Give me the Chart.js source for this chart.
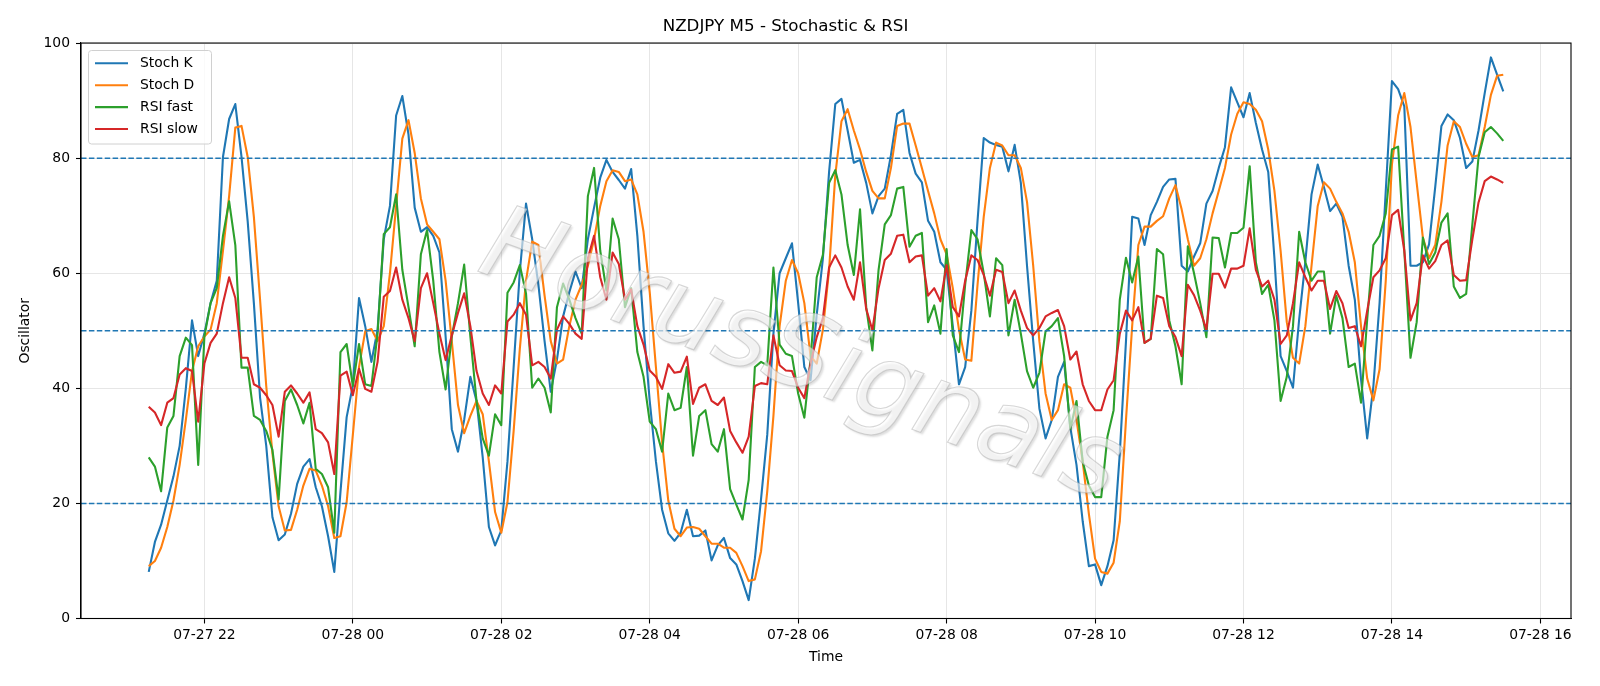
<!DOCTYPE html>
<html>
<head>
<meta charset="utf-8">
<script src="https://cdn.jsdelivr.net/npm/chart.js@4.4.1/dist/chart.umd.min.js"></script>
<style>
html, body { margin: 0; padding: 0; background: #ffffff; }
#wrap { width: 1600px; height: 686px; position: relative; }
</style>
</head>
<body>
<div id="wrap"><canvas id="c" width="1600" height="686"></canvas></div>
<script>
// ---- data (M5 bars, 07-27 21:15 .. 07-28 15:30) ----
const startDay = 27;
const startHour = 21;
const startMinuteOfHour = 15;
const stepMinutes = 5;

const stochK = [
  8.1, 13.3, 16.3, 20.5, 24.7, 30, 40, 51.8, 45.6, 49.5,
  54.8, 58.7, 80.2, 86.8, 89.4, 80.2, 69, 54.8, 38.4, 30,
  17.6, 13.6, 14.6, 18.2, 23.4, 26.4, 27.7, 22.8, 19.5, 14.3,
  8.1, 22, 35, 40.5, 55.7, 50.8, 44.6, 50.2, 65.9, 71.7,
  87.4, 90.8, 84.1, 71.4, 67.2, 68, 66.5, 63.6, 49, 32.9,
  29, 34.5, 42, 37.8, 28, 15.9, 12.7, 15.3, 27.3, 43.7,
  60.3, 72.1, 65.9, 58, 48.2, 39.4, 45, 52.5, 56.7, 60.3,
  57.4, 65.9, 71.4, 76.6, 79.7, 77.6, 76.2, 74.7, 78.1, 66.5,
  50.8, 37.8, 27.3, 18.9, 14.8, 13.5, 14.9, 18.9, 14.3, 14.4,
  15.3, 10.1, 12.7, 14, 10.5, 9.4, 6.5, 3.2, 10.4, 20.8,
  31.9, 49.5, 60, 62.6, 65.2, 54.8, 43.7, 41.4, 52.8, 62.6,
  77.6, 89.4, 90.3, 84.8, 79.2, 79.7, 75.7, 70.4, 73.4, 74.7,
  80.5, 87.7, 88.4, 80.9, 77.3, 75.8, 69.1, 67.2, 61.9, 60.6,
  50.8, 40.7, 43.7, 53.5, 69.1, 83.5, 82.7, 82.3, 82, 77.7,
  82.3, 75.7, 61.3, 48.2, 36.5, 31.3, 34.5, 42, 44.6, 33.2,
  26.7, 16.9, 9.1, 9.4, 5.8, 9.1, 13.6, 28.7, 48.2, 69.8,
  69.5, 64.9, 70.1, 72.4, 75, 76.3, 76.4, 61.3, 60.3, 62.9,
  65.2, 72.1, 74.3, 78.3, 81.9, 92.3, 89.7, 87.1, 91.3, 86.1,
  81.5, 77.6, 62.6, 45.6, 43, 40.1, 52, 62, 73.7, 78.9,
  75, 70.8, 72.1, 69.8, 61.3, 55.4, 41.6, 31.3, 40.4, 54.8,
  74.3, 93.4, 92, 89, 61.3, 61.3, 61.9, 65, 75, 85.6,
  87.6, 86.6, 83.5, 78.3, 79.4, 84.8, 91.3, 97.5, 94.5, 91.6
];

const stochD = [
  9.1, 10, 12.3, 15.9, 20.5, 26.7, 34.5, 43, 47.3, 49,
  50.2, 54.8, 63.9, 73.4, 85.3, 85.6, 80.2, 69.8, 55.4, 40.4,
  28.7, 19.5, 15.3, 15.4, 18.9, 23.1, 26, 25.7, 23.1, 19.5,
  14, 14.3, 20.2, 31.9, 43.7, 49.9, 50.3, 48.2, 50.8, 60,
  71.7, 83.4, 86.6, 80.9, 73, 68.5, 67.2, 65.9, 58.7, 48.2,
  37.1, 32.2, 35.2, 37.8, 35.5, 27.3, 18.5, 14.9, 20.2, 32.6,
  46.9, 58.7, 65.5, 64.9, 56.1, 48.2, 44.3, 45, 50.8, 55.4,
  58, 61.3, 65.9, 71.7, 76, 77.9, 77.6, 76, 76.3, 73.7,
  67.2, 56.7, 43.7, 30.6, 20.5, 15.6, 14.3, 15.8, 15.9, 15.6,
  14.3, 13, 13, 12.3, 12.3, 11.4, 9.1, 6.5, 6.8, 11.7,
  22.1, 35.2, 50.8, 58.7, 62.3, 60, 54.8, 45.6, 44.3, 50.2,
  60.6, 77, 86.4, 88.5, 84.8, 81.5, 77.6, 74.3, 73, 73,
  78.3, 85.6, 86, 86, 82.2, 78.3, 74.3, 70.4, 65.9, 63.3,
  57.4, 50.2, 45, 44.8, 58, 69.8, 78.3, 82.7, 82.2, 80.5,
  80.5, 78.3, 72.4, 61.3, 48.2, 39.1, 34.5, 36.2, 40.7, 40.1,
  34.5, 27.3, 18.2, 10.4, 8.1, 7.8, 9.7, 16.9, 34.5, 50.8,
  64.9, 68.1, 68.1, 69.1, 69.9, 73, 75.3, 71.1, 65.9, 61.3,
  62.6, 65.9, 70.4, 74.3, 78.3, 84.1, 87.7, 89.7, 89.4, 88.4,
  86.4, 81.5, 74.3, 63.9, 51.5, 45.3, 44.3, 50.8, 61.3, 71.7,
  75.8, 74.7, 72.4, 70.4, 67.2, 61.9, 50.8, 41.7, 37.9, 43.3,
  58.7, 78.9, 87.4, 91.3, 85.4, 75.7, 66.2, 62.6, 64.9, 72.4,
  82.2, 86.4, 85.4, 82.5, 80.2, 80.5, 85.4, 91, 94.3, 94.5
];

const rsiFast = [
  28, 26.4, 22.1, 33.2, 35.2, 45.6, 48.8, 47.5, 26.7, 49,
  54.8, 57.4, 66.5, 72.5, 64.9, 43.6, 43.6, 35.2, 34.5, 32.6,
  29.3, 20.7, 37.8, 39.8, 37.1, 33.9, 37.5, 26, 25.1, 22.8,
  14.9, 46.3, 47.7, 40.4, 47.7, 40.7, 40.4, 49.5, 66.8, 68,
  73.7, 60.6, 54.1, 47.3, 63.3, 67.5, 58.7, 46.3, 39.8, 49,
  54.8, 61.5, 49, 37.8, 31.3, 28.3, 35.5, 33.6, 56.6, 58.4,
  61.4, 56.5, 40.1, 41.7, 40.1, 35.8, 54.1, 58.2, 55.4, 52.2,
  49.5, 73.4, 78.3, 63.9, 57, 69.5, 65.9, 54.1, 57.4, 46.3,
  42, 34.2, 32.9, 29, 39.1, 36.2, 36.6, 43.7, 28.3, 35.2,
  36.2, 30.3, 29, 32.9, 22.5, 19.8, 17.2, 24.1, 43.7, 44.6,
  44, 61, 47.6, 46, 45.6, 39.1, 34.9, 45, 59.3, 63.2,
  75.7, 77.9, 73.7, 64.9, 59.7, 71.1, 54.1, 46.6, 60.6, 68.5,
  70.1, 74.7, 75, 64.6, 66.5, 67, 51.5, 54.4, 49.5, 64.2,
  49.2, 46.3, 58, 67.5, 65.9, 60, 52.5, 62.6, 61.4, 49.2,
  55.4, 49.5, 43, 40.1, 42.7, 49.9, 50.8, 52.2, 45.6, 32.9,
  37.8, 27.3, 23.1, 21.1, 21.1, 31.6, 36.2, 55.4, 62.7, 58.4,
  62.9, 47.9, 48.6, 64.2, 63.3, 51.8, 47.3, 40.7, 64.7, 60,
  54.8, 48.9, 66.2, 66.1, 61, 67, 67, 67.9, 78.6, 61.9,
  56.4, 58, 51.8, 37.8, 42, 50.8, 67.2, 61.9, 58.7, 60.3,
  60.3, 49.5, 56.1, 52.2, 43.7, 44.3, 37.5, 52, 64.9, 66.5,
  70.4, 81.5, 82, 63.9, 45.3, 51.5, 66.2, 61.6, 63.6, 68.8,
  70.4, 57.7, 55.7, 56.4, 68.5, 80.2, 84.5, 85.4, 84.3, 83
];

const rsiSlow = [
  36.8, 35.8, 33.6, 37.5, 38.3, 42.4, 43.5, 43, 34.2, 44.3,
  47.9, 49.5, 54.8, 59.3, 55.7, 45.3, 45.3, 40.7, 40.1, 38.8,
  37.1, 31.6, 39.4, 40.5, 39.1, 37.5, 39.3, 32.9, 32.2, 30.6,
  25.1, 42.2, 42.9, 38.8, 43.4, 39.9, 39.4, 44.6, 55.9, 56.9,
  61, 55.4, 52.2, 48.2, 57.4, 60, 54.8, 49.5, 44.9, 49.2,
  53.1, 56.5, 50.8, 43, 39.1, 37.1, 40.5, 39.1, 51.6, 52.8,
  54.8, 52.8, 44, 44.6, 43.7, 41.7, 50.2, 52.5, 51.2, 49.5,
  48.6, 62.6, 66.5, 59.3, 55.4, 63.6, 61.6, 55.4, 57.2, 50.8,
  47.6, 43.1, 42, 39.9, 44.2, 42.7, 42.9, 45.5, 37.3, 40.1,
  40.7, 37.8, 37.1, 38.4, 32.6, 30.6, 28.8, 31.6, 40.4, 40.9,
  40.7, 49.2, 44, 43.1, 43, 40.1, 38.3, 44.3, 48.9, 52.2,
  61, 63.1, 61, 57.7, 55.4, 61.9, 53.8, 50.1, 57.4, 62.3,
  63.4, 66.5, 66.7, 61.9, 62.9, 63.1, 56.1, 57.4, 55.1, 61.4,
  54.1, 52.5, 58.7, 63.1, 62.3, 59.7, 56.1, 60.6, 60.2, 54.8,
  57, 53.5, 50.5, 49.2, 50.5, 52.5, 53.1, 53.6, 50.8, 45,
  46.4, 40.7, 37.8, 36.2, 36.2, 39.8, 41.4, 49.5, 53.5, 51.8,
  54.1, 47.9, 48.6, 56.1, 55.7, 50.8, 48.9, 45.6, 58, 56.2,
  53.5, 50.2, 59.9, 59.9, 57.5, 60.8, 60.8, 61.3, 67.8, 60.6,
  57.7, 58.7, 55.4, 47.7, 49.2, 54.8, 61.9, 59.3, 57, 58.7,
  58.7, 53.8, 56.9, 54.8, 50.5, 50.8, 47.3, 53.5, 59.3, 60.5,
  62.6, 70.1, 71, 63.9, 51.8, 54.8, 63.1, 60.8, 62.1, 64.9,
  65.7, 59.7, 58.7, 58.8, 65.9, 72.3, 76, 76.8, 76.3, 75.7
];

const seriesNames = ['Stoch K', 'Stoch D', 'RSI fast', 'RSI slow'];
const seriesValues = [stochK, stochD, rsiFast, rsiSlow];
const levels = [20, 50, 80];

// tick positions in minutes since 07-27 00:00, and their labels
const tickMinutes = [1320, 1440, 1560, 1680, 1800, 1920, 2040, 2160, 2280, 2400];
const tickLabels = ['07-27 22', '07-28 00', '07-28 02', '07-28 04', '07-28 06',
                    '07-28 08', '07-28 10', '07-28 12', '07-28 14', '07-28 16'];

const chartTitle = 'NZDJPY M5 - Stochastic & RSI';
const xTitle = 'Time';
const yTitle = 'Oscillator';
const watermarkText = 'HorusSignals';

// ---- build ----
const startMinutes = (startDay - 27) * 1440 + startHour * 60 + startMinuteOfHour;
const times = stochK.map((_, i) => startMinutes + i * stepMinutes);
const span = times[times.length - 1] - times[0];
const xMin = times[0] - 0.05 * span;
const xMax = times[times.length - 1] + 0.05 * span;

const colors = ['#1f77b4', '#ff7f0e', '#2ca02c', '#d62728'];
const FONT = "'DejaVu Sans', 'Liberation Sans', sans-serif";
Chart.defaults.font.family = FONT;
Chart.defaults.color = '#000000';

const datasets = [];
levels.forEach(lv => {
  datasets.push({
    label: '_level' + lv,
    data: [{ x: xMin, y: lv }, { x: xMax, y: lv }],
    borderColor: '#1f77b4',
    borderWidth: 1.5,
    borderDash: [5.5, 2.4],
    pointRadius: 0,
    fill: false,
    order: 0,
    isLevel: true
  });
});
seriesValues.forEach((vals, k) => {
  datasets.push({
    label: seriesNames[k],
    data: vals.map((v, i) => ({ x: times[i], y: v })),
    borderColor: colors[k],
    backgroundColor: colors[k],
    borderWidth: 2.1,
    pointRadius: 0,
    tension: 0,
    fill: false,
    order: 4 - k,
    borderJoinStyle: 'round'
  });
});

const overlayPlugin = {
  id: 'overlay',
  afterDatasetsDraw(chart) {
    const ctx = chart.ctx;
    const a = chart.chartArea;
    // watermark
    ctx.save();
    ctx.beginPath();
    ctx.rect(a.left, a.top, a.right - a.left, a.bottom - a.top);
    ctx.clip();
    ctx.translate(800, 360);
    ctx.rotate(20 * Math.PI / 180);
    ctx.font = "oblique 103px " + FONT;
    ctx.textAlign = 'center';
    ctx.textBaseline = 'middle';
    ctx.shadowColor = 'rgba(60,60,60,0.28)';
    ctx.shadowOffsetX = 2;
    ctx.shadowOffsetY = 2;
    ctx.shadowBlur = 2;
    ctx.fillStyle = 'rgba(255,255,255,0.6)';
    ctx.fillText(watermarkText, 0, 0);
    ctx.shadowColor = 'rgba(0,0,0,0)';
    ctx.strokeStyle = 'rgba(175,175,175,0.5)';
    ctx.lineWidth = 1.1;
    ctx.strokeText(watermarkText, 0, 0);
    ctx.restore();

    // spines
    ctx.save();
    ctx.strokeStyle = '#000000';
    ctx.lineWidth = 1.1;
    ctx.strokeRect(a.left, a.top, a.right - a.left, a.bottom - a.top);
    ctx.restore();

    // legend (upper left)
    ctx.save();
    const bx = 88.5, by = 50.5, bw = 123, bh = 93.5, r = 3;
    ctx.beginPath();
    ctx.moveTo(bx + r, by);
    ctx.lineTo(bx + bw - r, by);
    ctx.arcTo(bx + bw, by, bx + bw, by + r, r);
    ctx.lineTo(bx + bw, by + bh - r);
    ctx.arcTo(bx + bw, by + bh, bx + bw - r, by + bh, r);
    ctx.lineTo(bx + r, by + bh);
    ctx.arcTo(bx, by + bh, bx, by + bh - r, r);
    ctx.lineTo(bx, by + r);
    ctx.arcTo(bx, by, bx + r, by, r);
    ctx.closePath();
    ctx.fillStyle = 'rgba(255,255,255,0.8)';
    ctx.fill();
    ctx.strokeStyle = '#d0d0d0';
    ctx.lineWidth = 1;
    ctx.stroke();
    ctx.font = "13.9px " + FONT;
    ctx.textAlign = 'left';
    ctx.textBaseline = 'middle';
    chart.data.datasets.filter(d => !d.isLevel).forEach((d, k) => {
      const y = 63.3 + k * 21.9;
      ctx.strokeStyle = d.borderColor;
      ctx.lineWidth = 2.1;
      ctx.beginPath();
      ctx.moveTo(95, y);
      ctx.lineTo(128, y);
      ctx.stroke();
      ctx.fillStyle = '#000000';
      ctx.fillText(d.label, 140, y + 0.5);
    });
    ctx.restore();
  }
};

new Chart(document.getElementById('c').getContext('2d'), {
  type: 'line',
  data: { datasets },
  options: {
    responsive: false,
    animation: false,
    devicePixelRatio: 1,
    layout: { padding: { left: 0, right: 29, top: 0, bottom: 0 } },
    plugins: {
      legend: { display: false },
      tooltip: { enabled: false },
      title: {
        display: true,
        text: chartTitle,
        color: '#000000',
        font: { size: 16.7, weight: 'normal', family: FONT },
        padding: { top: 16.7, bottom: 6.3 }
      }
    },
    scales: {
      x: {
        type: 'linear',
        min: xMin,
        max: xMax,
        afterBuildTicks: s => { s.ticks = tickMinutes.map(v => ({ value: v })); },
        afterFit: s => { s.height = 67.5; },
        ticks: {
          autoSkip: false, maxRotation: 0, minRotation: 0,
          callback: v => { const j = tickMinutes.indexOf(v); return j >= 0 ? tickLabels[j] : ''; },
          font: { size: 13.9 }, color: '#000000', padding: 4
        },
        grid: { color: '#e6e6e6', lineWidth: 1, tickColor: '#000000', tickLength: 5, tickWidth: 1.1 },
        border: { display: true, color: '#000000', width: 1.1 },
        title: { display: true, text: xTitle, color: '#000000', font: { size: 13.9 }, padding: { top: 0, bottom: 20 } }
      },
      y: {
        min: 0,
        max: 100,
        afterFit: s => { s.width = 81; },
        ticks: { stepSize: 20, font: { size: 13.9 }, color: '#000000', padding: 6 },
        grid: { color: '#e6e6e6', lineWidth: 1, tickColor: '#000000', tickLength: 5, tickWidth: 1.1 },
        border: { display: true, color: '#000000', width: 1.1 },
        title: { display: true, text: yTitle, color: '#000000', font: { size: 13.9 }, padding: { top: 16.7, bottom: 0 } }
      }
    }
  },
  plugins: [overlayPlugin]
});
</script>
</body>
</html>
